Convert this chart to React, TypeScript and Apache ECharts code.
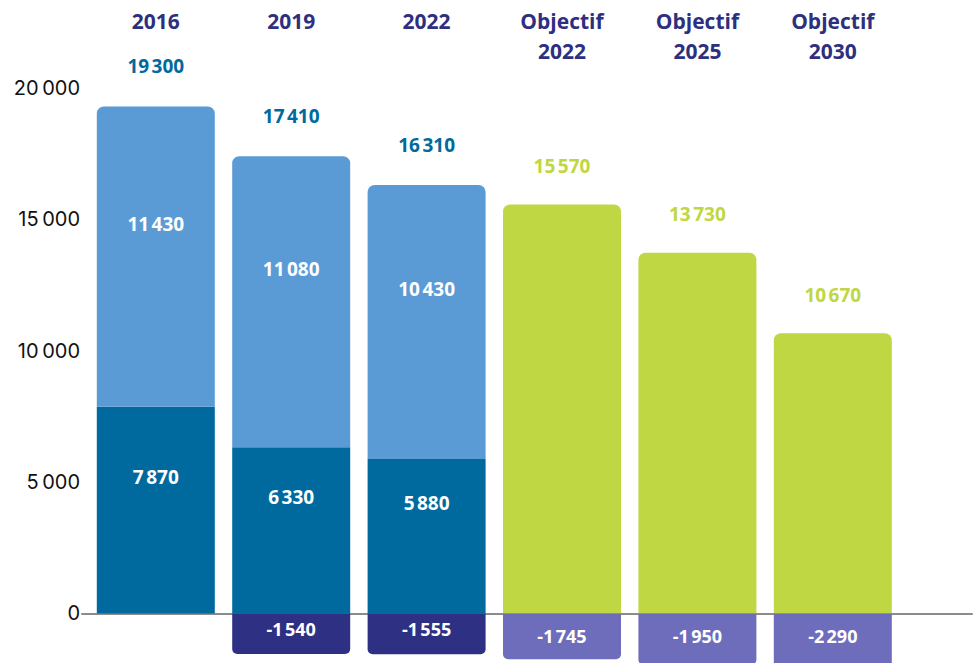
import React, { useEffect, useRef } from "react";
import * as echarts from "echarts";

const categories = ["2016", "2019", "2022", "Objectif\n2022", "Objectif\n2025", "Objectif\n2030"];
const baseValues = [7870, 6330, 5880, null, null, null];
const upperValues = [11430, 11080, 10430, null, null, null];
const totalValues = [19300, 17410, 16310, null, null, null];
const objectiveValues = [null, null, null, 15570, 13730, 10670];
const negativeActual = [null, -1540, -1555, null, null, null];
const negativeObjective = [null, null, null, -1745, -1950, -2290];
const yTicks = [0, 5000, 10000, 15000, 20000];

const fmt = (v: number) => {
  const s = Math.abs(v).toString().replace(/\B(?=(\d{3})+(?!\d))/g, "\u202f");
  return (v < 0 ? "-" : "") + s;
};
const toSeries = (arr: (number | null)[]) => arr.map((v) => (v === null ? "-" : v));

const BOLD = "'Open Sans', 'DejaVu Sans', sans-serif";

export default function App() {
  const ref = useRef<HTMLDivElement>(null);
  useEffect(() => {
    if (!ref.current) return;
    const chart = echarts.init(ref.current, null, { renderer: "svg" });
    const valueLabel = (color: string) => ({
      show: true,
      color,
      opacity: 1,
      fontFamily: BOLD,
      fontWeight: "bold" as const,
      fontSize: 19,
      formatter: (p: any) => fmt(p.value),
    });
    chart.setOption({
      animation: false,
      grid: [
        { left: 88.1, top: 88.1, width: 812.4, height: 656.7 },
        { left: 82, top: 88.1, right: 5, height: 656.7 },
      ],
      xAxis: [
        {
          type: "category",
          gridIndex: 0,
          data: categories,
          position: "top",
          axisLine: { show: false },
          axisTick: { show: false },
          axisLabel: {
            margin: 82,
            verticalAlign: "top",
            color: "#2E2F7E",
            fontFamily: BOLD,
            fontWeight: "bold",
            fontSize: 21,
            lineHeight: 30,
          },
        },
        {
          type: "value",
          gridIndex: 1,
          min: 0,
          max: 1,
          axisLine: { show: true, onZero: true, lineStyle: { color: "#8c8c8c", width: 2 } },
          axisTick: { show: false },
          axisLabel: { show: false },
          splitLine: { show: false },
        },
      ],
      yAxis: [
        {
          type: "value",
          gridIndex: 0,
          min: -5000,
          max: 20000,
          interval: 5000,
          axisLine: { show: false },
          axisTick: { show: false },
          splitLine: { show: false },
          axisLabel: {
            margin: 8,
            color: "#111",
            fontFamily: "Inter, sans-serif",
            fontSize: 20,
            formatter: (v: number) => (yTicks.includes(v) ? fmt(v) : ""),
          },
        },
        {
          type: "value",
          gridIndex: 1,
          min: -5000,
          max: 20000,
          axisLine: { show: false },
          axisTick: { show: false },
          axisLabel: { show: false },
          splitLine: { show: false },
        },
      ],
      series: [
        {
          type: "bar",
          stack: "s",
          barWidth: 118,
          data: toSeries(baseValues),
          itemStyle: { color: "#00699D" },
          label: { ...valueLabel("#ffffff"), position: "inside", offset: [0, -33] },
          z: 2,
        },
        {
          type: "bar",
          stack: "s",
          barWidth: 118,
          data: toSeries(upperValues),
          itemStyle: { color: "#5B9BD5", borderRadius: [7, 7, 0, 0] },
          label: { ...valueLabel("#ffffff"), position: "inside", offset: [0, -33] },
          z: 2,
        },
        {
          type: "bar",
          stack: "s",
          barWidth: 118,
          data: toSeries(objectiveValues),
          itemStyle: { color: "#BFD742", borderRadius: [7, 7, 0, 0] },
          label: { ...valueLabel("#BFD742"), position: "top", distance: 29 },
          z: 2,
        },
        {
          type: "bar",
          stack: "s",
          barWidth: 118,
          data: toSeries(negativeActual),
          itemStyle: { color: "#2E3183", borderRadius: [0, 0, 5, 5] },
          label: { ...valueLabel("#ffffff"), fontSize: 18, position: "insideTop", distance: 7 },
          z: 2,
        },
        {
          type: "bar",
          stack: "s",
          barWidth: 118,
          data: toSeries(negativeObjective),
          itemStyle: { color: "#6E6DBC", borderRadius: [0, 0, 5, 5] },
          label: { ...valueLabel("#ffffff"), fontSize: 18, position: "insideTop", distance: 14 },
          z: 2,
        },
        {
          type: "scatter",
          data: toSeries(totalValues),
          symbol: "circle",
          symbolSize: 2,
          itemStyle: { color: "rgba(0,0,0,0)", opacity: 1 },
          label: { ...valueLabel("#00699D"), position: "top", distance: 30 },
          emphasis: { disabled: true },
          z: 3,
        },
      ],
    });
    return () => chart.dispose();
  }, []);
  return (
    <div
      ref={ref}
      style={{ position: "fixed", left: 0, top: 0, width: 977, height: 750, background: "#fff" }}
    />
  );
}
